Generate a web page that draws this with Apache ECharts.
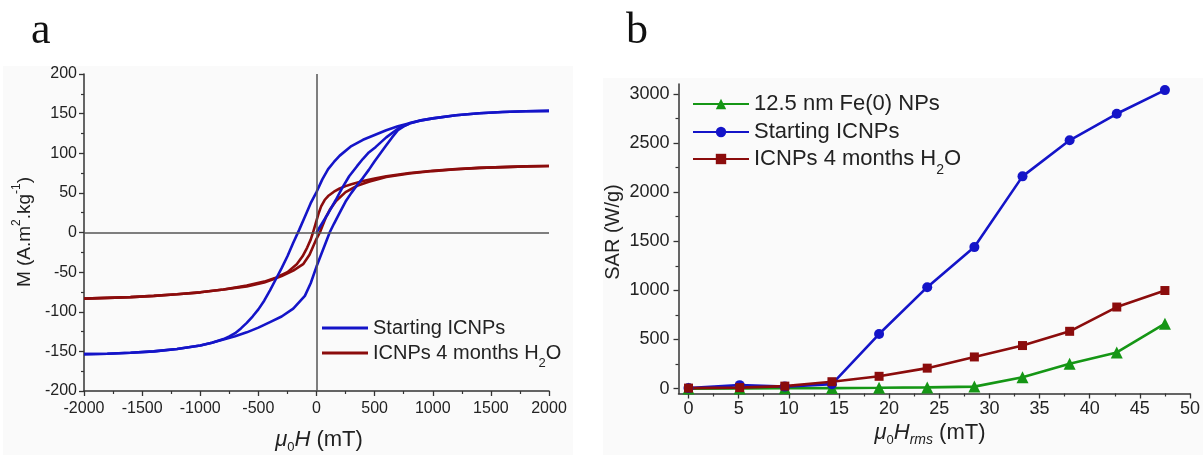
<!DOCTYPE html>
<html><head><meta charset="utf-8">
<script src="https://cdn.jsdelivr.net/npm/echarts@6/dist/echarts.min.js"></script>
<style>html,body{margin:0;padding:0;background:#fff}#c{width:1203px;height:455px}</style>
</head><body><div id="c"></div>
<script>
// ---------- Panel a : hysteresis loops  [mu0H (mT), M (A.m2/kg)] ----------
const startDesc = [[2000,153.5],[1800,153],[1600,152],[1400,150.5],[1200,148],[1000,144],[900,141.5],[800,138],[700,134],[600,129],[500,123],[400,117],[300,109],[200,97],[150,89],[100,80],[50,67],[0,51],[-50,37],[-100,20],[-150,3],[-200,-13],[-250,-30],[-300,-45],[-350,-59],[-400,-73],[-450,-86],[-500,-97],[-550,-106],[-600,-114],[-650,-121],[-700,-127],[-750,-131],[-800,-134.5],[-900,-139],[-1000,-142.5],[-1200,-147],[-1400,-150],[-1600,-151.8],[-1800,-153],[-2000,-153.5]];
const startAsc = [[-2000,-153.5],[-1800,-153],[-1600,-151.8],[-1400,-150],[-1200,-147],[-1000,-142.5],[-900,-139],[-800,-135],[-700,-131],[-600,-126],[-500,-120],[-400,-113],[-300,-106],[-200,-96],[-100,-80],[-50,-64],[0,-43],[50,-24],[100,-5],[113,0],[150,11],[200,25],[250,39],[300,50],[350,60],[400,69],[450,79],[500,90],[550,100],[600,110],[650,120],[700,129],[750,134],[800,137.5],[900,141.5],[1000,144],[1200,148],[1400,150.5],[1600,152],[1800,153],[2000,153.5]];
const startVirgin = [[0,0],[50,12],[100,24],[166,41],[220,56],[281,71],[350,84],[400,93],[450,101],[510,108],[600,120],[700,131],[800,137.5]];
const agedDesc = [[2000,84],[1800,83.5],[1600,82.5],[1400,81.5],[1200,80],[1000,78],[800,75],[600,71],[500,68],[400,65],[300,61],[250,58.5],[200,55.5],[150,51.5],[100,46],[70,41],[40,33],[20,25],[0,15],[-20,5],[-30,0],[-50,-9],[-80,-19],[-120,-30],[-170,-40],[-250,-50],[-350,-57],[-450,-62],[-600,-67],[-800,-72],[-1000,-75.5],[-1200,-78],[-1400,-80],[-1600,-81.5],[-1800,-82.5],[-2000,-83.5]];
const agedAsc = [[-2000,-83.5],[-1800,-82.5],[-1600,-81.5],[-1400,-80],[-1200,-78],[-1000,-75.5],[-800,-72],[-600,-68],[-450,-63],[-372,-59],[-300,-55],[-200,-48],[-115,-40],[-60,-28],[-30,-18],[0,-8],[29,0],[50,8],[80,19],[120,30],[170,40],[250,51],[350,59],[450,64],[600,70],[800,74.5],[1000,77.5],[1200,79.8],[1400,81.5],[1600,82.5],[1800,83.5],[2000,84]];

// ---------- Panel b : SAR vs field ----------
const fieldRms = [0, 5.1, 9.6, 14.3, 19.0, 23.8, 28.5, 33.3, 38.0, 42.7, 47.5];
const sarFe = [0, 2, 3, 5, 8, 12, 20, 115, 252, 368, 660];
const sarStart = [5, 35, 20, 45, 555, 1032, 1440, 2160, 2527, 2797, 3038];
const sarAged = [5, 10, 25, 70, 125, 208, 322, 438, 583, 830, 998];

// tick labels
const bXTicks = [0,5,10,15,20,25,30,35,40,45,50];
const bXMinor = [2.5,7.5,12.5,17.5,22.5,27.5,32.5,37.5,42.5,47.5];
const bYTicks = [0,500,1000,1500,2000,2500,3000];
const bYMinor = [250,750,1250,1750,2250,2750];

const BLUE = '#1414c8', RED = '#8b0c0c', GREEN = '#159615';
const FONT = 'Liberation Sans';
const AX = '#333', TXT = '#222';

const pairs = (xs, ys) => xs.map((x, i) => [x, ys[i]]);
const plain = v => String(v);

const nameA1 = 'Starting ICNPs', nameA2 = 'ICNPs 4 months H2O';
const nameB0 = '12.5 nm Fe(0) NPs', nameB1 = 'Starting ICNPs ', nameB2 = 'ICNPs 4 months H2O ';

function fmt(name) {
  const n = name.trim();
  if (n === 'ICNPs 4 months H2O') return '{n|ICNPs 4 months H}{s|2}{n|O}';
  return '{n|' + n + '}';
}

function baseAxis(extra) {
  return Object.assign({
    type: 'value',
    axisLine: {show: true, onZero: false, lineStyle: {color: AX, width: 1.5}},
    axisTick: {show: true, inside: false, length: 5, lineStyle: {color: AX, width: 1.3}},
    splitLine: {show: false},
  }, extra);
}

function legendItem(name, left, top, fs, lh, sfs, iw, lineOnly) {
  const l = {
    data: [name], left: left, top: top, orient: 'vertical', padding: 0,
    itemWidth: iw, itemHeight: 13, itemGap: 0, selectedMode: false,
    formatter: fmt,
    textStyle: {
      color: TXT, fontFamily: FONT, fontSize: fs,
      rich: {
        n: {fontSize: fs, fontFamily: FONT, color: TXT, lineHeight: lh, verticalAlign: 'middle'},
        s: {fontSize: sfs, fontFamily: FONT, color: TXT, lineHeight: sfs, verticalAlign: 'bottom'}
      }
    }
  };
  if (lineOnly) { l.icon = 'rect'; l.itemHeight = 3; }
  return l;
}

const lineA = (name, data, color, z) => ({
  name, type: 'line', xAxisIndex: 0, yAxisIndex: 0, data, symbol: 'none',
  lineStyle: {color, width: 2.6}, itemStyle: {color}, z, silent: true
});
const lineB = (name, data, color, symbol, size) => ({
  name, type: 'line', xAxisIndex: 1, yAxisIndex: 1, data, symbol, symbolSize: size,
  showSymbol: true, lineStyle: {color, width: 2.6}, itemStyle: {color}, z: 3
});

const option = {
  animation: false,
  backgroundColor: '#ffffff',
  grid: [
    {left: 84, top: 74, width: 465, height: 317},
    {left: 678.5, top: 84, width: 511.5, height: 309.5}
  ],
  xAxis: [
    baseAxis({gridIndex: 0, position: 'bottom', min: -2000, max: 2000, interval: 500,
      minorTick: {show: true, splitNumber: 2, length: 3, lineStyle: {color: AX, width: 1.2}},
      axisLabel: {fontSize: 16, fontFamily: FONT, color: TXT, margin: 10, formatter: plain}}),
    baseAxis({gridIndex: 1, position: 'bottom', min: -1, max: 50,
      axisTick: {show: true, length: 5, customValues: bXTicks, lineStyle: {color: AX, width: 1.3}},
      axisLabel: {fontSize: 18, fontFamily: FONT, color: TXT, margin: 7, customValues: bXTicks, formatter: plain}}),
    baseAxis({gridIndex: 1, position: 'bottom', min: -1, max: 50,
      axisLine: {show: false, onZero: false},
      axisTick: {show: true, length: 3, customValues: bXMinor, lineStyle: {color: AX, width: 1.2}},
      axisLabel: {show: false}})
  ],
  yAxis: [
    baseAxis({gridIndex: 0, position: 'left', min: -200, max: 200, interval: 50,
      minorTick: {show: true, splitNumber: 2, length: 3, lineStyle: {color: AX, width: 1.2}},
      axisLabel: {fontSize: 16, fontFamily: FONT, color: TXT, margin: 7, formatter: plain}}),
    baseAxis({gridIndex: 1, position: 'left', min: -50, max: 3100,
      axisTick: {show: true, length: 5, customValues: bYTicks, lineStyle: {color: AX, width: 1.3}},
      axisLabel: {fontSize: 18, fontFamily: FONT, color: TXT, margin: 9, customValues: bYTicks, formatter: plain}}),
    baseAxis({gridIndex: 1, position: 'left', min: -50, max: 3100,
      axisLine: {show: false, onZero: false},
      axisTick: {show: true, length: 3, customValues: bYMinor, lineStyle: {color: AX, width: 1.2}},
      axisLabel: {show: false}})
  ],
  legend: [
    legendItem(nameA1, 322, 318, 20, 24, 13, 46, true),
    legendItem(nameA2, 322, 343, 20, 34, 13, 46, true),
    legendItem(nameB0, 692, 93, 22, 26, 14, 56, false),
    legendItem(nameB1, 692, 121, 22, 26, 14, 56, false),
    legendItem(nameB2, 692, 148, 22, 37, 14, 56, false)
  ],
  series: [
    {type: 'line', xAxisIndex: 0, yAxisIndex: 0, data: [[0, 0]], symbol: 'none',
      lineStyle: {opacity: 0}, z: 1, silent: true,
      markLine: {silent: true, symbol: ['none', 'none'], label: {show: false},
        lineStyle: {color: '#555', width: 1.5, type: 'solid'},
        emphasis: {disabled: true},
        data: [{xAxis: 0}, {yAxis: 0}]}},
    lineA(nameA2, agedDesc, RED, 2),
    lineA(nameA2, agedAsc, RED, 2),
    lineA(nameA1, startDesc, BLUE, 3),
    lineA(nameA1, startAsc, BLUE, 3),
    lineA(nameA1, startVirgin, BLUE, 3),
    lineB(nameB0, pairs(fieldRms, sarFe), GREEN, 'triangle', 12),
    lineB(nameB1, pairs(fieldRms, sarStart), BLUE, 'circle', 10),
    lineB(nameB2, pairs(fieldRms, sarAged), RED, 'rect', 9)
  ],
  graphic: [
    {type: 'rect', z: -10, shape: {x: 3, y: 66, width: 570, height: 389}, style: {fill: '#fafafa'}, silent: true},
    {type: 'rect', z: -10, shape: {x: 603, y: 78, width: 600, height: 377}, style: {fill: '#fafafa'}, silent: true},
    {type: 'text', x: 31, y: 31, style: {text: 'a', font: '44px "Liberation Serif"', fill: '#111', align: 'left', verticalAlign: 'middle'}},
    {type: 'text', x: 626, y: 31, style: {text: 'b', font: '44px "Liberation Serif"', fill: '#111', align: 'left', verticalAlign: 'middle'}},
    {type: 'text', x: 25, y: 232, rotation: Math.PI / 2, style: {
      text: '{n|M (A.m}{p|2}{n|.kg}{p|-1}{n|)}', align: 'center', verticalAlign: 'middle', fill: TXT,
      rich: {n: {fontSize: 19, fontFamily: FONT, fill: TXT, lineHeight: 28, verticalAlign: 'middle'},
             p: {fontSize: 12, fontFamily: FONT, fill: TXT, lineHeight: 12, verticalAlign: 'top'}}}},
    {type: 'text', x: 319, y: 440, style: {
      text: '{i|μ}{s|0}{i|H}{n| (mT)}', align: 'center', verticalAlign: 'middle', fill: TXT,
      rich: {i: {fontSize: 22, fontFamily: FONT, fontStyle: 'italic', fill: TXT, lineHeight: 28, verticalAlign: 'middle'},
             n: {fontSize: 22, fontFamily: FONT, fill: TXT, lineHeight: 28, verticalAlign: 'middle'},
             s: {fontSize: 13, fontFamily: FONT, fill: TXT, lineHeight: 13, verticalAlign: 'bottom'}}}},
    {type: 'text', x: 613, y: 232, rotation: Math.PI / 2, style: {
      text: 'SAR (W/g)', font: '20px "Liberation Sans"', fill: TXT, align: 'center', verticalAlign: 'middle'}},
    {type: 'text', x: 930, y: 433, style: {
      text: '{i|μ}{s|0}{i|H}{r|rms}{n| (mT)}', align: 'center', verticalAlign: 'middle', fill: TXT,
      rich: {i: {fontSize: 22, fontFamily: FONT, fontStyle: 'italic', fill: TXT, lineHeight: 28, verticalAlign: 'middle'},
             n: {fontSize: 22, fontFamily: FONT, fill: TXT, lineHeight: 28, verticalAlign: 'middle'},
             s: {fontSize: 13, fontFamily: FONT, fill: TXT, lineHeight: 13, verticalAlign: 'bottom'},
             r: {fontSize: 14, fontFamily: FONT, fontStyle: 'italic', fill: TXT, lineHeight: 14, verticalAlign: 'bottom'}}}}
  ]
};

const chart = echarts.init(document.getElementById('c'), null, {renderer: 'canvas'});
chart.setOption(option);
</script>
</body></html>
